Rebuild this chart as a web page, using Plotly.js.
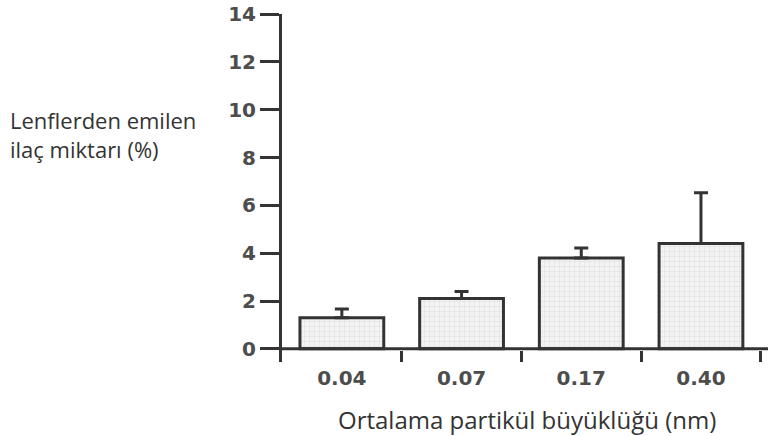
<!DOCTYPE html>
<html>
<head>
<meta charset="utf-8">
<script src="https://cdn.plot.ly/plotly-3.0.1.min.js"></script>
<style>html,body{margin:0;padding:0;background:#fff;}#chart{width:769px;height:436px;}</style>
</head>
<body>
<div id="chart"></div>
<script>
var categories = ["0.04", "0.07", "0.17", "0.40"];
var values = [1.3, 2.1, 3.8, 4.4];
var errorsUp = [0.37, 0.3, 0.42, 2.13];
var yTicks = [0, 2, 4, 6, 8, 10, 12, 14];
var yTitleLines = ["Lenflerden emilen", "ilaç miktarı (%)"];
var xTitle = "Ortalama partikül büyüklüğü (nm)";

var dark = "#333333";
var tickFont = {family: "DejaVu Sans, Verdana, sans-serif", size: 20, color: "#4d4d4d", weight: "bold"};
var yTitleFont = {family: "Open Sans, Noto Sans, sans-serif", size: 22, color: "#333333"};
var xTitleFont = {family: "Open Sans, Noto Sans, sans-serif", size: 24, color: "#333333"};

var trace = {
  type: "bar",
  x: categories,
  y: values,
  width: 0.7,
  marker: {
    color: "#f2f2f2",
    line: {color: dark, width: 3},
    pattern: {shape: "+", size: 5, solidity: 0.15, fgcolor: "#d6d6d6", bgcolor: "#f3f3f3"}
  },
  error_y: {
    type: "data",
    symmetric: false,
    array: errorsUp,
    arrayminus: errorsUp.map(function(){return 0;}),
    color: dark,
    thickness: 3,
    width: 7
  },
  hoverinfo: "none"
};

var layout = {
  width: 769,
  height: 436,
  margin: {l: 282, r: 1, t: 14, b: 74},
  paper_bgcolor: "#ffffff",
  plot_bgcolor: "#ffffff",
  showlegend: false,
  xaxis: {
    type: "category",
    range: [-0.5, 3.56],
    showline: false,
    showgrid: false,
    zeroline: false,
    ticks: "inside",
    tickson: "boundaries",
    ticklen: 11,
    tickwidth: 3,
    tickcolor: dark,
    tickfont: tickFont,
    ticklabelstandoff: 2,
    fixedrange: true
  },
  yaxis: {
    range: [-0.55, 14],
    tickvals: yTicks,
    ticktext: yTicks.map(String),
    showline: true,
    linecolor: dark,
    linewidth: 3,
    showgrid: false,
    zeroline: false,
    ticks: "outside",
    ticklen: 19,
    tickwidth: 3,
    tickcolor: dark,
    tickfont: tickFont,
    fixedrange: true
  },
  shapes: [{
    type: "line", xref: "paper", yref: "y",
    x0: 0, x1: 1, y0: 0, y1: 0,
    line: {color: dark, width: 3}
  }],
  annotations: [
    {text: yTitleLines.join("<br>"), xref: "paper", yref: "paper", x: -0.564, y: 0.655, xanchor: "left", yanchor: "middle", align: "left", showarrow: false, font: yTitleFont},
    {text: xTitle, xref: "paper", yref: "paper", x: 0.505, y: -0.166, xanchor: "center", yanchor: "middle", showarrow: false, font: xTitleFont}
  ]
};

Plotly.newPlot("chart", [trace], layout, {displayModeBar: false, staticPlot: true});
</script>
</body>
</html>
